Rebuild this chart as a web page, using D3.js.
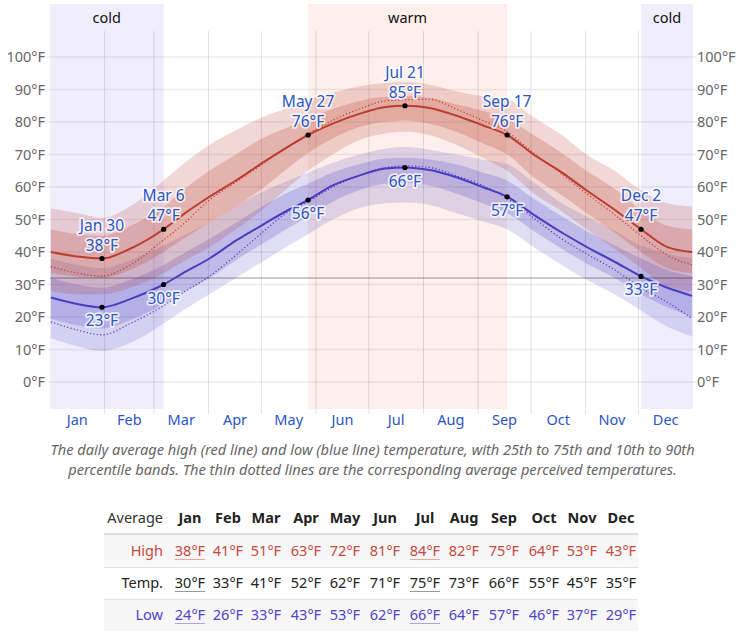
<!DOCTYPE html>
<html><head><meta charset="utf-8">
<script src="https://cdn.jsdelivr.net/npm/d3@7"></script>
<style>
html,body{margin:0;padding:0;background:#fff;}
svg{display:block;font-family:"Noto Sans","Open Sans",sans-serif;}
</style></head>
<body><svg id="c" width="755" height="639"></svg>
<script>
// ---------- data ----------
const monthNames = ["Jan","Feb","Mar","Apr","May","Jun","Jul","Aug","Sep","Oct","Nov","Dec"];
const monthStarts = [0,31,59,90,120,151,181,212,243,273,304,334,365];
const yTicks = [0,10,20,30,40,50,60,70,80,90,100];
const keyDays = [0,15,29,45,64,75,90,105,120,135,146,160,175,190,201,215,230,245,259,274,290,304,320,335,350,364];
const highAvg = [40,38.6,38,41,47,51.5,57,62,67.4,72.5,76,79.5,82.5,84.6,85,84.3,82,79,76,70,64.5,59,53,47,41.5,40];
const highP90 = [53.5,52,50.5,54,62,67,73,77.5,81.5,84.5,87,89,91,92,92.3,91.5,89.5,88,87,81.5,76,70,65,59,55,54];
const highP75 = [47,45.5,45,48,54,59,65,70,75,78.5,81,84,86.5,87.8,88,87.5,85.5,83.5,81,76,70.5,65,59.5,53,48,47];
const highP25 = [33.5,32.5,32,34.5,40,44,49,54,59.5,66,70.5,75,78.5,80,80.5,79.5,77,73.5,70,63,57.5,52,46,40,35,33.5];
const highP10 = [28,27,27,29,33.5,37,41.5,47,53,60,65,70,74.5,76.5,77,76,73,69,65,58,52.5,47,41,35,29.5,28];
const lowAvg  = [26,24,23,25.5,30,33.5,38,43.5,48.3,53,56,60.5,63.5,65.7,66,65.2,63,60,57,51.5,46,41.6,37,32.5,29,26.5];
const lowP90  = [38,36,35,37.5,42,45,49,54,58.5,62,64.5,67.5,70,71.8,72.3,71.5,70,68.5,67,61.5,55,51,46.5,42,39.5,38];
const lowP75  = [32,30,29,31.5,36,39.5,44,49,54,58.5,61,64.5,67,68.8,69,68.5,67,64.5,62,56.5,51,46.5,42,38,34.5,32.5];
const lowP25  = [19.5,17.5,16.5,19,24,27.5,32,37.5,42.5,47.5,51,55.5,59,61,61.2,60.5,58,55,52,46.5,41,36.5,32,27,23,20];
const lowP10  = [13.5,11,9.5,12,18,22,27,32,37,42,45.5,50,53.5,55,55.2,54.5,52,49.5,47,41.5,36,31.5,27,22,17,14];
const feelsHigh = [35.5,33.5,32.6,36,43.7,48.5,56,61.5,67,72.5,76.3,80.5,84,86.5,86.8,87,84,80.5,77,70.5,64,58,51.5,45,39,36];
const feelsLow  = [18.5,16,14.5,18,23.5,27.5,32.5,39,46,52.5,55.5,60,63.5,66,66.5,66,63.5,60.5,56.5,50.5,44,39.5,34.5,29,24.5,19.5];
const annotDays = [29,64,146,201,259,335];
const annotLabels = ["Jan 30","Mar 6","May 27","Jul 21","Sep 17","Dec 2"];
const coldRanges = [[0,64.5],[335.5,365]];
const warmRange = [146.5,259.5];
const tableHigh = [38,41,51,63,72,81,84,82,75,64,53,43];
const tableTemp = [30,33,41,52,62,71,75,73,66,55,45,35];
const tableLow  = [24,26,33,43,53,62,66,64,57,46,37,29];

// ---------- scales ----------
const svg = d3.select("#c");
const x = d3.scaleLinear().domain([0,365]).range([50,693]);
const y = d3.scaleLinear().domain([0,100]).range([382,57]);
const RED = "#bb3d30", BLUE = "#4a3dc0", LBL = "#2b55c4";

// season bands
const gBands = svg.append("g");
coldRanges.forEach(r => gBands.append("rect").attr("x",x(r[0])).attr("y",4)
  .attr("width",x(r[1])-x(r[0])).attr("height",405).attr("fill","#f0eefc"));
gBands.append("rect").attr("x",x(warmRange[0])).attr("y",4)
  .attr("width",x(warmRange[1])-x(warmRange[0])).attr("height",405).attr("fill","#fdf0ec");
const bandLbl = [["cold",(coldRanges[0][0]+coldRanges[0][1])/2],["warm",(warmRange[0]+warmRange[1])/2],["cold",(coldRanges[1][0]+coldRanges[1][1])/2]];
svg.append("g").selectAll("text").data(bandLbl).join("text")
  .attr("x",d=>x(d[1])).attr("y",23).attr("text-anchor","middle")
  .attr("font-size",14.5).attr("fill","#111").text(d=>d[0]);

// horizontal grid
svg.append("g").selectAll("line").data(yTicks).join("line")
  .attr("x1",47).attr("x2",696).attr("y1",d=>y(d)).attr("y2",d=>y(d))
  .attr("stroke","#000").attr("stroke-opacity",0.07).attr("stroke-width",1.5);
// vertical month lines
svg.append("g").selectAll("line").data(monthStarts.slice(1,12)).join("line")
  .attr("x1",d=>x(d)).attr("x2",d=>x(d)).attr("y1",31).attr("y2",414)
  .attr("stroke","#000").attr("stroke-opacity",0.12).attr("stroke-width",1);

// axes
const fmt = d => d + "°F";
const axL = svg.append("g").attr("transform","translate(50,0)")
  .call(d3.axisLeft(y).tickValues(yTicks).tickFormat(fmt).tickSize(0).tickPadding(5));
const axR = svg.append("g").attr("transform","translate(693,0)")
  .call(d3.axisRight(y).tickValues(yTicks).tickFormat(fmt).tickSize(0).tickPadding(4));
[axL,axR].forEach(a=>{a.select(".domain").remove();
  a.selectAll("text").attr("font-size",14.5).attr("fill","#666").attr("font-family","Noto Sans, sans-serif");});

// month labels
svg.append("g").selectAll("text").data(monthNames).join("text")
  .attr("x",(d,i)=>x((monthStarts[i]+monthStarts[i+1])/2)).attr("y",425)
  .attr("text-anchor","middle").attr("font-size",14.5).attr("fill",LBL).text(d=>d);

// data bands & lines
const px = i => x(keyDays[i]+0.5);
const area = (lo,hi) => d3.area().curve(d3.curveMonotoneX).x((d,i)=>px(i)).y0((d,i)=>y(lo[i])).y1((d,i)=>y(hi[i]))(keyDays);
const line = arr => d3.line().curve(d3.curveMonotoneX).x((d,i)=>px(i)).y((d,i)=>y(arr[i]))(keyDays);
const gData = svg.append("g");
gData.append("path").attr("d",area(lowP10,lowP90)).attr("fill",BLUE).attr("fill-opacity",0.17);
gData.append("path").attr("d",area(lowP25,lowP75)).attr("fill",BLUE).attr("fill-opacity",0.22);
gData.append("path").attr("d",area(highP10,highP90)).attr("fill",RED).attr("fill-opacity",0.2);
gData.append("path").attr("d",area(highP25,highP75)).attr("fill",RED).attr("fill-opacity",0.24);

// freezing line
svg.append("line").attr("x1",50).attr("x2",693).attr("y1",y(32)).attr("y2",y(32))
  .attr("stroke","#000").attr("stroke-opacity",0.2).attr("stroke-width",2);

gData.append("path").attr("d",line(feelsHigh)).attr("fill","none").attr("stroke",RED).attr("stroke-width",1.2).attr("stroke-dasharray","1.2,2.2");
gData.append("path").attr("d",line(feelsLow)).attr("fill","none").attr("stroke",BLUE).attr("stroke-width",1.2).attr("stroke-dasharray","1.2,2.2");
svg.append("path").attr("d",line(highAvg)).attr("fill","none").attr("stroke",RED).attr("stroke-width",2);
svg.append("path").attr("d",line(lowAvg)).attr("fill","none").attr("stroke",BLUE).attr("stroke-width",2);

// annotations
const gA = svg.append("g").attr("font-size",15.5).attr("fill",LBL).attr("text-anchor","middle");
const halo = t => t.attr("stroke","#fff").attr("stroke-opacity",0.75).attr("stroke-width",3.5).attr("paint-order","stroke").attr("stroke-linejoin","round");
annotDays.forEach((d,k)=>{
  const i = keyDays.indexOf(d);
  const cx = px(i), hy = y(highAvg[i]), ly = y(lowAvg[i]);
  halo(gA.append("text").attr("x",cx).attr("y",hy-28).text(annotLabels[k]));
  halo(gA.append("text").attr("x",cx).attr("y",hy-8).text(Math.round(highAvg[i])+"°F"));
  halo(gA.append("text").attr("x",cx).attr("y",ly+19).text(Math.round(lowAvg[i])+"°F"));
  svg.append("circle").attr("cx",cx).attr("cy",hy).attr("r",2.6).attr("fill","#000");
  svg.append("circle").attr("cx",cx).attr("cy",ly).attr("r",2.6).attr("fill","#000");
});

// caption
const cap = ["The daily average high (red line) and low (blue line) temperature, with 25th to 75th and 10th to 90th",
             "percentile bands. The thin dotted lines are the corresponding average perceived temperatures."];
svg.append("g").selectAll("text").data(cap).join("text")
  .attr("x",372.5).attr("y",(d,i)=>455+i*20).attr("text-anchor","middle")
  .attr("font-size",14.6).attr("font-style","italic").attr("fill","#666").text(d=>d);

// table
const colX = [190,228,266,306,345,385,425,464,504,544,582,621];
const gT = svg.append("g").attr("font-size",14.5);
gT.append("rect").attr("x",104).attr("y",535).attr("width",534).attr("height",32).attr("fill","#f7f7f7");
gT.append("rect").attr("x",104).attr("y",599).attr("width",534).attr("height",32).attr("fill","#f7f7f7");
gT.append("line").attr("x1",104).attr("x2",638).attr("y1",534).attr("y2",534).attr("stroke","#ddd").attr("stroke-width",2);
[567,599].forEach(v=>gT.append("line").attr("x1",104).attr("x2",638).attr("y1",v+0.5).attr("y2",v+0.5).attr("stroke","#e2e2e2"));
gT.append("text").attr("x",163).attr("y",523).attr("text-anchor","end").attr("fill","#333").text("Average");
gT.selectAll(".mh").data(monthNames).join("text").attr("x",(d,i)=>colX[i]).attr("y",523)
  .attr("text-anchor","middle").attr("font-weight","bold").attr("fill","#222").text(d=>d);
const rows = [["High",tableHigh,"#c34a3c","#e8a89e",556],["Temp.",tableTemp,"#222","#999",588],["Low",tableLow,"#4d44c6","#a9a3e3",620]];
rows.forEach(r=>{
  gT.append("text").attr("x",163).attr("y",r[4]).attr("text-anchor","end").attr("fill",r[2]).text(r[0]);
  r[1].forEach((v,i)=>{
    const t = gT.append("text").attr("x",colX[i]).attr("y",r[4]).attr("text-anchor","middle").attr("fill",r[2]).text(v+"°F");
    if(i===0||i===6){
      const w = t.node().getComputedTextLength();
      gT.append("line").attr("x1",colX[i]-w/2).attr("x2",colX[i]+w/2).attr("y1",r[4]+3.5).attr("y2",r[4]+3.5)
        .attr("stroke",r[3]).attr("stroke-width",1);
    }
  });
});
</script></body></html>
